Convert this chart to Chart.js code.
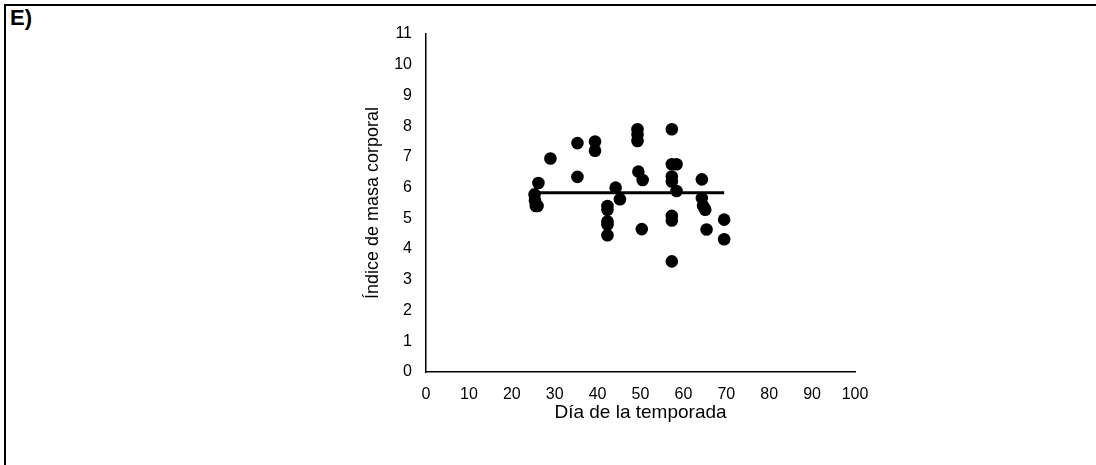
<!DOCTYPE html>
<html>
<head>
<meta charset="utf-8">
<script src="https://cdn.jsdelivr.net/npm/chart.js@4"></script>
<style>
  html, body { margin: 0; padding: 0; background: #fff; }
  #wrap { position: relative; width: 1096px; height: 465px; overflow: hidden; }
  #frame {
    position: absolute; left: 4px; top: 4px; right: -10px; bottom: -10px;
    border-top: 2.5px solid #000; border-left: 2.5px solid #000;
  }
  #panel {
    position: absolute; left: 10px; top: 5px;
    font: bold 22px "Liberation Sans", Arial, sans-serif; color: #000;
  }
  canvas { position: absolute; left: 0; top: 0; }
</style>
</head>
<body>
<div id="wrap">
  <div id="frame"></div>
  <div id="panel">E)</div>
  <canvas id="chart" width="1096" height="465"></canvas>
</div>
<script>
// day of the season and body mass index, one entry per animal
const dayX = [
  25.3, 25.4, 25.6, 26.0, 26.2,
  29.0,
  35.3, 35.3,
  39.4, 39.4,
  42.3, 42.3, 42.3, 42.3, 42.3,
  44.2, 45.2,
  49.3, 49.3, 49.3, 49.5, 50.5, 50.3,
  57.3, 57.3, 57.3, 57.3, 57.3, 57.3, 57.3,
  58.4, 58.4,
  64.3, 64.3, 64.6, 65.1, 65.4,
  69.5, 69.5
];
const bmiY = [
  5.78, 5.58, 5.4, 5.4, 6.15,
  6.95,
  7.45, 6.35,
  7.5, 7.2,
  5.4, 5.28, 4.9, 4.8, 4.45,
  6.0, 5.62,
  7.9, 7.73, 7.52, 6.52, 6.25, 4.65,
  7.9, 6.76, 6.36, 6.2, 5.08, 4.93, 3.6,
  6.76, 5.89,
  6.27, 5.66, 5.4, 5.28, 4.64,
  4.96, 4.32
];

// fitted line across the observed range
const trendX = [25.3, 69.5];
const trendY = [5.83, 5.83];

const xTicks = [0, 10, 20, 30, 40, 50, 60, 70, 80, 90, 100];
const yTicks = [0, 1, 2, 3, 4, 5, 6, 7, 8, 9, 10, 11];

const font = 'Liberation Sans, Arial, sans-serif';

new Chart(document.getElementById('chart'), {
  type: 'scatter',
  data: {
    datasets: [
      {
        data: trendX.map((x, i) => ({ x: x, y: trendY[i] })),
        showLine: true,
        borderColor: '#000',
        borderWidth: 3,
        pointRadius: 0,
        order: 1
      },
      {
        data: dayX.map((x, i) => ({ x: x, y: bmiY[i] })),
        backgroundColor: '#000',
        borderWidth: 0,
        pointRadius: 6.3,
        order: 2
      }
    ]
  },
  options: {
    responsive: false,
    animation: false,
    events: [],
    layout: { padding: { left: 350, right: 241, top: 34, bottom: 38 } },
    plugins: { legend: { display: false }, tooltip: { enabled: false } },
    scales: {
      x: {
        type: 'linear',
        min: xTicks[0],
        max: xTicks[xTicks.length - 1],
        afterBuildTicks: s => { s.ticks = xTicks.map(v => ({ value: v })); },
        afterFit: s => { s.height = 55; },
        grid: { display: false, drawTicks: false },
        border: { color: '#000', width: 1.5 },
        ticks: { color: '#000', padding: 13, font: { family: font, size: 16 } },
        title: {
          display: true,
          text: 'Día de la temporada',
          color: '#000',
          padding: { top: 0, bottom: 3 },
          font: { family: font, size: 19 }
        }
      },
      y: {
        type: 'linear',
        min: yTicks[0],
        max: yTicks[yTicks.length - 1],
        afterBuildTicks: s => { s.ticks = yTicks.map(v => ({ value: v })); },
        afterFit: s => { s.width = 76; },
        grid: { display: false, drawTicks: false },
        border: { color: '#000', width: 1.5 },
        ticks: { color: '#000', padding: 14, font: { family: font, size: 16 } },
        title: {
          display: true,
          text: 'Índice de masa corporal',
          color: '#000',
          padding: { top: 12, bottom: 0 },
          font: { family: font, size: 18 }
        }
      }
    }
  }
});
</script>
</body>
</html>
